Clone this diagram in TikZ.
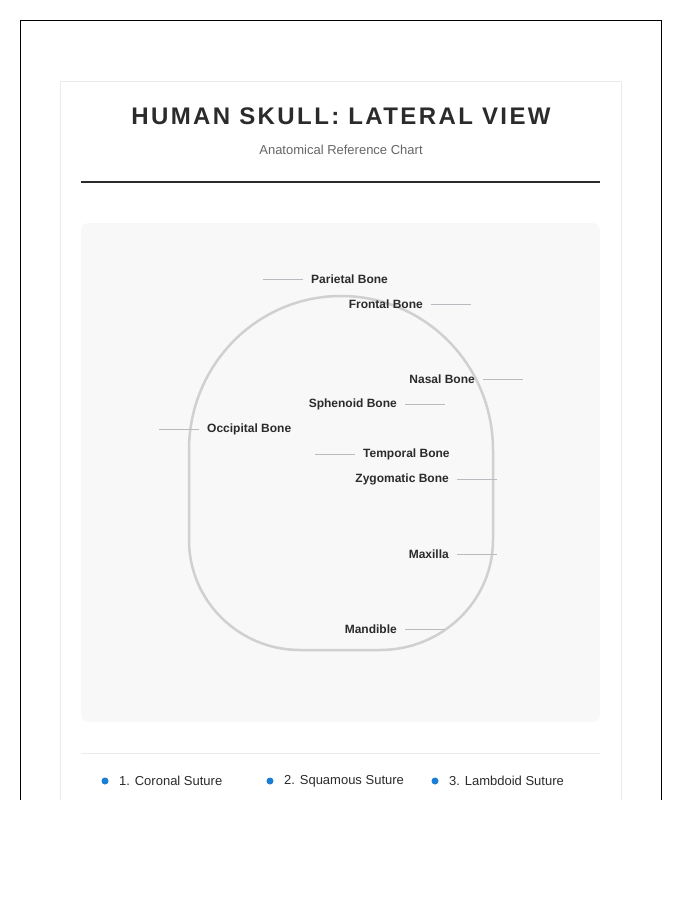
\documentclass[tikz,border=0pt]{standalone}
\usepackage{fontspec}
\setmainfont{Liberation Sans}
\definecolor{ink}{HTML}{2B2B2B}
\definecolor{sub}{HTML}{666666}
\definecolor{panel}{HTML}{F8F8F8}
\definecolor{leader}{HTML}{B8BCC0}
\definecolor{skull}{HTML}{D0D0D0}
\definecolor{dotblue}{HTML}{1A7FD4}
\begin{document}
\begin{tikzpicture}[x=1pt,y=-1pt,
  lbl/.style={font=\bfseries\fontsize{12}{14}\selectfont,text=ink,inner sep=0pt},
  lead/.style={draw=leader,line width=0.8pt},
  leg/.style={font=\fontsize{13}{15}\selectfont,text=ink,inner sep=0pt,anchor=west},
  dot/.style={circle,fill=dotblue,minimum size=7pt,inner sep=0pt}]
\useasboundingbox (0,0) rectangle (700,900);
\fill[white] (0,0) rectangle (700,900);
\draw[black,line width=0.8pt] (20,800) -- (20,20) -- (661,20) -- (661,800);
\draw[draw=black!8,line width=0.8pt] (60,800) -- (60,81) -- (621,81) -- (621,800);
\node[font=\bfseries\fontsize{24}{28}\selectfont\addfontfeature{LetterSpace=10},text=ink] (title) at (341,116) {HUMAN SKULL: LATERAL VIEW};
\node[font=\fontsize{13}{15}\selectfont,text=sub] (subtitle) at (341,150) {Anatomical Reference Chart};
\draw[ink,line width=2pt] (81,182) -- (600,182);
\fill[panel,rounded corners=8pt] (81,223) rectangle (600,722);
\draw[skull,line width=2.5pt] (189,450) .. controls (189,365) and (257,296) .. (341,296)
  .. controls (425,296) and (493,365) .. (493,450)
  -- (493,540) .. controls (493,601) and (442,650) .. (380,650)
  -- (300,650) .. controls (239,650) and (189,601) .. (189,540) -- cycle;
% labels
\node[lbl,anchor=west] (parietal) at (311,279) {Parietal Bone};
\coordinate (parietalE) at (263,279);
\draw[lead] ([xshift=-8pt]parietal.west) -- (parietalE);
\node[lbl,anchor=east] (frontal) at (423,304) {Frontal Bone};
\coordinate (frontalE) at (471,304);
\draw[lead] ([xshift=8pt]frontal.east) -- (frontalE);
\node[lbl,anchor=east] (nasal) at (475,379) {Nasal Bone};
\coordinate (nasalE) at (523,379);
\draw[lead] ([xshift=8pt]nasal.east) -- (nasalE);
\node[lbl,anchor=east] (sphenoid) at (397,404) {Sphenoid Bone};
\coordinate (sphenoidE) at (445,404);
\draw[lead] ([xshift=8pt]sphenoid.east) -- (sphenoidE);
\node[lbl,anchor=west] (occipital) at (207,429) {Occipital Bone};
\coordinate (occipitalE) at (159,429);
\draw[lead] ([xshift=-8pt]occipital.west) -- (occipitalE);
\node[lbl,anchor=west] (temporal) at (363,454) {Temporal Bone};
\coordinate (temporalE) at (315,454);
\draw[lead] ([xshift=-8pt]temporal.west) -- (temporalE);
\node[lbl,anchor=east] (zygomatic) at (449,479) {Zygomatic Bone};
\coordinate (zygomaticE) at (497,479);
\draw[lead] ([xshift=8pt]zygomatic.east) -- (zygomaticE);
\node[lbl,anchor=east] (maxilla) at (449,554) {Maxilla};
\coordinate (maxillaE) at (497,554);
\draw[lead] ([xshift=8pt]maxilla.east) -- (maxillaE);
\node[lbl,anchor=east] (mandible) at (397,629) {Mandible};
\coordinate (mandibleE) at (445,629);
\draw[lead] ([xshift=8pt]mandible.east) -- (mandibleE);
% legend
\draw[black!8,line width=0.8pt] (81,753) -- (600,753);
\node[dot] (d1) at (105,781) {};
\node[leg] (l1) at (119,781) {1. Coronal Suture};
\node[dot] (d2) at (270,781) {};
\node[leg] (l2) at (284,781) {2. Squamous Suture};
\node[dot] (d3) at (435,781) {};
\node[leg] (l3) at (449,781) {3. Lambdoid Suture};
\end{tikzpicture}
\end{document}
